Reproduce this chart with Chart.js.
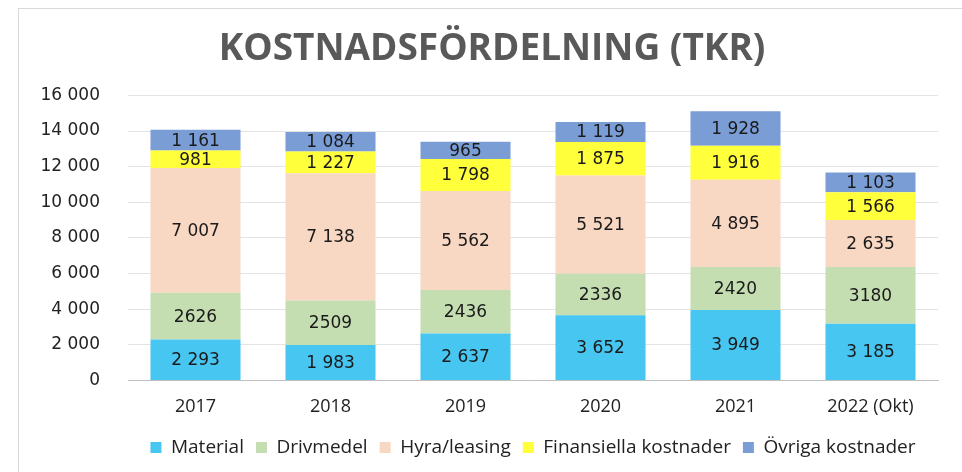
<!DOCTYPE html>
<html><head><meta charset="utf-8">
<script src="https://cdn.jsdelivr.net/npm/chart.js@4.4.1/dist/chart.umd.min.js"></script>
<style>
html,body{margin:0;padding:0;background:#fff;}
#wrap{position:relative;width:962px;height:472px;}
#frame{position:absolute;left:18px;top:8px;width:944px;height:464px;border-left:1px solid #d9d9d9;border-top:1px solid #d9d9d9;box-sizing:border-box;}
canvas{position:absolute;left:0;top:0;}
</style></head>
<body><div id="wrap"><div id="frame"></div><canvas id="c" width="962" height="472"></canvas></div>
<script>
const categories = ['2017','2018','2019','2020','2021','2022 (Okt)'];
const material = [2293, 1983, 2637, 3652, 3949, 3185];
const drivmedel = [2626, 2509, 2436, 2336, 2420, 3180];
const hyra = [7007, 7138, 5562, 5521, 4895, 2635];
const finansiella = [981, 1227, 1798, 1875, 1916, 1566];
const ovriga = [1161, 1084, 965, 1119, 1928, 1103];
const seriesNames = ['Material','Drivmedel','Hyra/leasing','Finansiella kostnader','Övriga kostnader'];
const seriesColors = ['#47C6F1','#C4DEB1','#F8D7C3','#FFFF3C','#7B9DD6'];
const labelSeparators = [' ', '', ' ', ' ', ' '];
const chartTitle = 'KOSTNADSFÖRDELNING (TKR)';
const yMin = 0, yMax = 16000, yStep = 2000;

function fmt(v, sep){
  return String(v).replace(/\B(?=(\d{3})+(?!\d))/g, sep);
}
const seriesData = [material, drivmedel, hyra, finansiella, ovriga];
const titleFont = {family:'"Open Sans", sans-serif', size:37, weight:'bold'};

const labelPlugin = {
  id:'barLabels',
  afterDatasetsDraw(chart){
    const ctx = chart.ctx;
    ctx.save();
    ctx.font = '17px "DejaVu Sans", Verdana, sans-serif';
    ctx.fillStyle = '#1a1a1a';
    ctx.textAlign = 'center';
    ctx.textBaseline = 'middle';
    chart.data.datasets.forEach((ds, i) => {
      const meta = chart.getDatasetMeta(i);
      meta.data.forEach((bar, j) => {
        const p = bar.getProps(['x','y','base'], true);
        ctx.fillText(fmt(ds.data[j], labelSeparators[i]), p.x, (p.y + p.base)/2 + 1);
      });
    });
    ctx.restore();
  }
};
// draws the title centred on the outer frame (the title plugin reserves the space)
const titlePlugin = {
  id:'frameTitle',
  afterDraw(chart){
    const t = chart.titleBlock;
    const ctx = chart.ctx;
    ctx.save();
    ctx.font = `${titleFont.weight} ${titleFont.size}px ${titleFont.family}`;
    ctx.fillStyle = '#595959';
    ctx.textAlign = 'center';
    ctx.textBaseline = 'middle';
    const cy = t.top + 13 + (t.height - 13 - 24)/2;
    ctx.fillText(chartTitle, 492, cy);
    ctx.restore();
  }
};

new Chart(document.getElementById('c'), {
  type:'bar',
  data:{
    labels: categories,
    datasets: seriesData.map((d,i)=>({
      label: seriesNames[i], data: d, backgroundColor: seriesColors[i],
      borderWidth: 0, barPercentage: 0.667, categoryPercentage: 1.0
    }))
  },
  plugins:[labelPlugin, titlePlugin],
  options:{
    responsive:false, animation:false,
    layout:{padding:{left:18, right:24, top:14, bottom:5}},
    plugins:{
      title:{display:true, text:chartTitle, color:'rgba(0,0,0,0)',
        font:titleFont, padding:{top:13,bottom:24}},
      legend:{position:'bottom', fullSize:false, labels:{boxWidth:11, boxHeight:11, color:'#222', padding:12,
        font:{family:'"Open Sans", sans-serif', size:19}}},
      tooltip:{enabled:false}
    },
    scales:{
      x:{stacked:true, grid:{display:false}, border:{color:'#bfbfbf'},
        ticks:{color:'#222', font:{family:'"Open Sans", sans-serif', size:18}, padding:8}},
      y:{stacked:true, min:yMin, max:yMax,
        grid:{color:'#e3e3e3', drawTicks:false}, border:{display:false},
        ticks:{stepSize:yStep, color:'#222', padding:28,
          font:{family:'"DejaVu Sans", Verdana, sans-serif', size:17},
          callback:(v)=>fmt(v,' ')},
        afterFit(s){ s.width = 110; }
      }
    }
  }
});
</script></body></html>
